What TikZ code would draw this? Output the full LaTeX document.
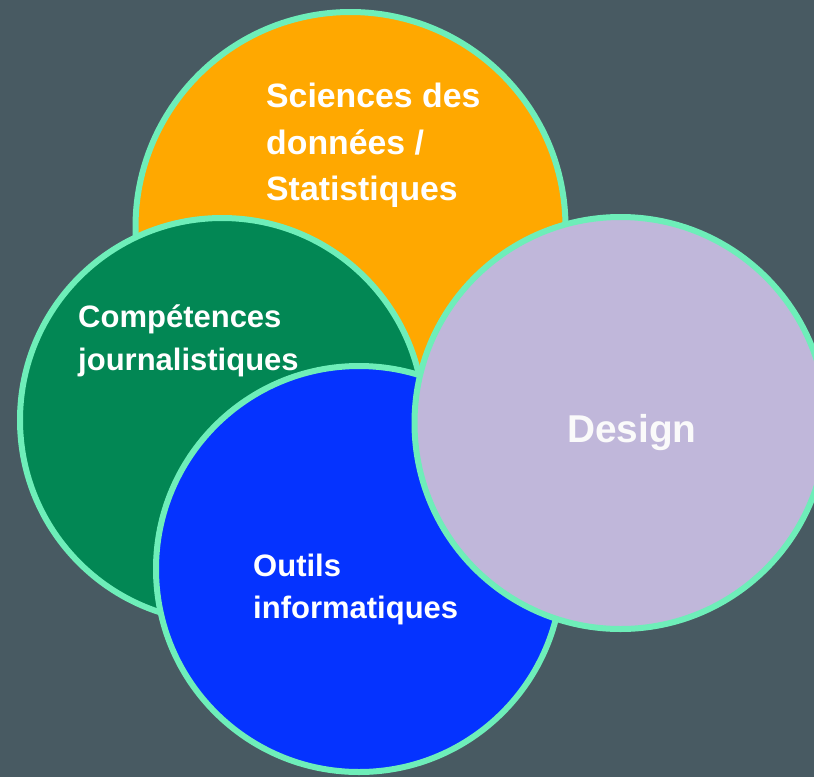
\documentclass[tikz,border=0pt]{standalone}
\usepackage{fontspec}
\setmainfont{Liberation Sans}
\definecolor{bg}{RGB}{72,90,98}
\definecolor{corange}{RGB}{255,168,0}
\definecolor{cgreen}{RGB}{2,135,84}
\definecolor{cblue}{RGB}{5,51,255}
\definecolor{cpurple}{RGB}{192,183,218}
\definecolor{mint}{RGB}{110,238,185}
\tikzset{
  blob/.style={circle, draw=mint, line width=6pt, inner sep=0pt},
  lbl/.style={anchor=base west, inner sep=0pt, text=white, font=\bfseries\fontsize{#1}{#1}\selectfont},
}
\begin{document}
\begin{tikzpicture}[x=1pt,y=-1pt]
\fill[bg] (0,0) rectangle (814,777);
\useasboundingbox (0,0) rectangle (814,777);
\node[blob, fill=corange, minimum size=430pt] (orange) at (350.5,227) {};
\node[blob, fill=cgreen, minimum size=404pt] (green) at (222,420) {};
\node[blob, fill=cblue, minimum size=406pt] (blue) at (359,569) {};
\node[blob, fill=cpurple, minimum size=412pt] (purple) at (620.5,423) {};
\node[lbl=33.8] (o1) at (266,107) {Sciences des};
\node[lbl=33.8] (o2) at (266,154) {données /};
\node[lbl=33.8] (o3) at (266,200) {Statistiques};
\node[lbl=31] (g1) at (78,327) {Compétences};
\node[lbl=31] (g2) at (78,370) {journalistiques};
\node[lbl=31] (b1) at (253,576) {Outils};
\node[lbl=31] (b2) at (253,618) {informatiques};
\node[anchor=base, inner sep=0pt, text=white!96!gray, font=\bfseries\fontsize{38.8}{38.8}\selectfont] (d) at (632,442) {Design};
\end{tikzpicture}
\end{document}
